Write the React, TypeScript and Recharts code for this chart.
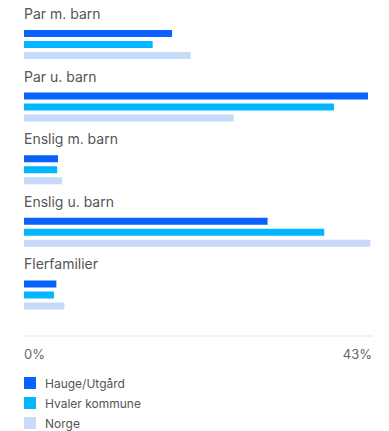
import { BarChart, Bar, XAxis, YAxis, LabelList } from "recharts";

const categories = ["Par m. barn", "Par u. barn", "Enslig m. barn", "Enslig u. barn", "Flerfamilier"];
const hauge = [18.3, 42.5, 4.2, 30.1, 4.0];
const hvaler = [15.9, 38.3, 4.1, 37.1, 3.7];
const norge = [20.6, 25.9, 4.7, 42.8, 5.0];
const xTicks = [0, 43];

const series = [
  { key: "hauge", name: "Hauge/Utgård", color: "#0862fe" },
  { key: "hvaler", name: "Hvaler kommune", color: "#00b6fd" },
  { key: "norge", name: "Norge", color: "#c6dbfa" },
];

const data = categories.map((c, i) => ({
  name: c,
  hauge: hauge[i],
  hvaler: hvaler[i],
  norge: norge[i],
}));

const FONT = "Inter, 'Noto Sans', sans-serif";

// group title drawn above the first bar of each category
function CategoryLabel({ x, y, value }: any) {
  return (
    <text x={x} y={y - 11} fill="#555" fontSize={14} fontFamily={FONT} textAnchor="start">
      {value}
    </text>
  );
}

function PercentTick({ x, y, payload, index }: any) {
  return (
    <text
      x={x}
      y={y + 23}
      fill="#666"
      fontSize={13}
      fontFamily={FONT}
      textAnchor={index === 0 ? "start" : "end"}
    >
      {payload.value}%
    </text>
  );
}

export default function App() {
  return (
    <div style={{ position: "absolute", left: 0, top: 0, width: 389, height: 431, background: "#fff" }}>
      <BarChart
        width={389}
        height={366}
        data={data}
        layout="vertical"
        margin={{ top: 13, right: 17, bottom: 0, left: 24 }}
        barSize={7}
        barGap={4}
      >
        <XAxis
          type="number"
          domain={[0, 43]}
          ticks={xTicks}
          height={30}
          tickSize={0}
          tickMargin={0}
          tickLine={false}
          axisLine={{ stroke: "#dfe6ee" }}
          tick={<PercentTick />}
        />
        <YAxis
          type="category"
          dataKey="name"
          width={0}
          axisLine={false}
          tickLine={false}
          tick={false}
          padding={{ top: 0, bottom: 10 }}
        />
        {series.map((s, i) => (
          <Bar key={s.key} dataKey={s.key} name={s.name} fill={s.color} isAnimationActive={false}>
            {i === 0 && <LabelList dataKey="name" content={<CategoryLabel />} />}
          </Bar>
        ))}
      </BarChart>
      <div style={{ position: "absolute", left: 24, top: 373, fontFamily: FONT, fontSize: 12, color: "#555" }}>
        {series.map((s) => (
          <div key={s.key} style={{ display: "flex", alignItems: "center", height: 20 }}>
            <span style={{ width: 12, height: 12, background: s.color, marginRight: 9, display: "inline-block" }} />
            {s.name}
          </div>
        ))}
      </div>
    </div>
  );
}
